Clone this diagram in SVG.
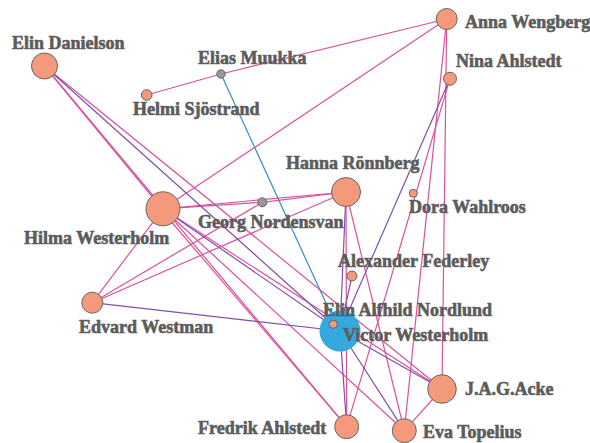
<svg xmlns="http://www.w3.org/2000/svg" width="590" height="443" viewBox="0 0 590 443">
<style>
.bg{fill:#ffffff}
.e{fill:none;stroke-width:1.2}
.p{stroke:#d8529e}
.u{stroke:#8150a8}
.t{stroke:#3a8cb8}
.n{fill:#f4997b;stroke:#666;stroke-width:1}
.g{fill:#999;stroke:#666;stroke-width:1}
.v{fill:#35a8e0}
text{font-family:"Liberation Serif","Times New Roman",serif;font-weight:bold;font-size:18px;fill:#5c5c5c;stroke:#5c5c5c;stroke-width:0.6;stroke-linejoin:round}
</style>
<rect class="bg" x="0" y="0" width="590" height="443"/>
<g id="edges">
<line class="e p" x1="146.7" y1="95" x2="221" y2="74"/>
<line class="e p" x1="221" y1="74" x2="446.7" y2="19"/>
<line class="e p" x1="446.7" y1="19" x2="163" y2="208.8"/>
<line class="e p" x1="446.7" y1="19" x2="442" y2="389"/>
<line class="e p" x1="446.7" y1="19" x2="404.3" y2="430.7"/>
<line class="e p" x1="450" y1="78.7" x2="346.7" y2="426.7"/>
<line class="e p" x1="44.5" y1="66" x2="159" y2="205"/>
<line class="e p" x1="44.5" y1="66" x2="346.7" y2="426.7"/>
<line class="e p" x1="44.5" y1="66" x2="442" y2="389"/>
<line class="e p" x1="163" y1="208.8" x2="346" y2="192"/>
<line class="e p" x1="163" y1="208.8" x2="262.3" y2="202.3"/>
<line class="e p" x1="262.3" y1="202.3" x2="346" y2="192"/>
<line class="e p" x1="163" y1="212" x2="346.7" y2="426.7"/>
<line class="e p" x1="163" y1="208.8" x2="404.3" y2="430.7"/>
<line class="e p" x1="163" y1="208.8" x2="442" y2="389"/>
<line class="e p" x1="92.3" y1="302.7" x2="163" y2="208.8"/>
<line class="e p" x1="92.3" y1="302.7" x2="262.3" y2="202.3"/>
<line class="e p" x1="92.3" y1="302.7" x2="346" y2="192"/>
<line class="e p" x1="346" y1="192" x2="346.7" y2="426.7"/>
<line class="e p" x1="346" y1="192" x2="404.3" y2="430.7"/>
<line class="e p" x1="442" y1="389" x2="404.3" y2="430.7"/>
<line class="e u" x1="44.5" y1="66" x2="340" y2="331"/>
<line class="e u" x1="163" y1="208.8" x2="340" y2="331"/>
<line class="e u" x1="92.3" y1="302.7" x2="340" y2="331"/>
<line class="e u" x1="450" y1="78.7" x2="340" y2="331"/>
<line class="e u" x1="346" y1="192" x2="340" y2="331"/>
<line class="e u" x1="352" y1="276" x2="340" y2="331"/>
<line class="e u" x1="340" y1="331" x2="346.7" y2="426.7"/>
<line class="e u" x1="340" y1="331" x2="404.3" y2="430.7"/>
<line class="e u" x1="340" y1="331" x2="442" y2="389"/>
<line class="e t" x1="221" y1="74" x2="336" y2="325"/>
</g>
<g id="elin-danielson"><circle class="n" cx="44.5" cy="66" r="13"/><text x="12" y="49">Elin Danielson</text></g>
<g id="elias-muukka"><circle class="g" cx="221" cy="74" r="4.2"/><text x="198" y="64">Elias Muukka</text></g>
<g id="helmi-sjostrand"><circle class="n" cx="146.7" cy="95" r="5.3"/><text x="133" y="115">Helmi Sjöstrand</text></g>
<g id="anna-wengberg"><circle class="n" cx="446.7" cy="19" r="10.5"/><text x="465" y="28">Anna Wengberg</text></g>
<g id="nina-ahlstedt"><circle class="n" cx="450" cy="78.7" r="6.5"/><text x="456" y="66.5">Nina Ahlstedt</text></g>
<g id="hilma-westerholm"><circle class="n" cx="163" cy="208.8" r="17"/><text x="24" y="244">Hilma Westerholm</text></g>
<g id="georg-nordensvan"><circle class="g" cx="262.3" cy="202.3" r="4.5"/><text x="198" y="228">Georg Nordensvan</text></g>
<g id="hanna-ronnberg"><circle class="n" cx="346" cy="192" r="14.5"/><text x="286" y="169">Hanna Rönnberg</text></g>
<g id="dora-wahlroos"><circle class="n" cx="413.3" cy="193.3" r="4"/><text x="409" y="213">Dora Wahlroos</text></g>
<g id="alexander-federley"><circle class="n" cx="352" cy="276" r="5"/><text x="338" y="267">Alexander Federley</text></g>
<g id="edvard-westman"><circle class="n" cx="92.3" cy="302.7" r="10.5"/><text x="79" y="333">Edvard Westman</text></g>
<g id="victor-westerholm"><circle class="v" cx="340" cy="331" r="20.5"/><text x="343" y="341">Victor Westerholm</text></g>
<g id="elin-alfhild-nordlund"><circle class="n" cx="333.3" cy="324.3" r="4"/><text x="323" y="316">Elin Alfhild Nordlund</text></g>
<g id="jag-acke"><circle class="n" cx="442" cy="389" r="14.3"/><text x="465" y="395">J.A.G.Acke</text></g>
<g id="fredrik-ahlstedt"><circle class="n" cx="346.7" cy="426.7" r="12"/><text x="198" y="434">Fredrik Ahlstedt</text></g>
<g id="eva-topelius"><circle class="n" cx="404.3" cy="430.7" r="12"/><text x="423" y="438">Eva Topelius</text></g>
</svg>
